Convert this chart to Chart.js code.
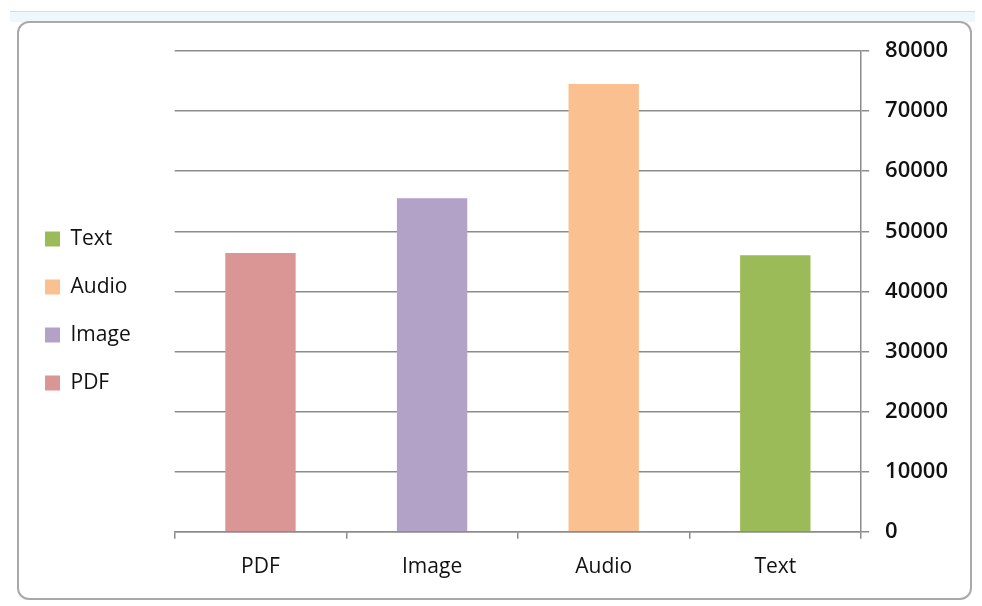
<!DOCTYPE html>
<html>
<head>
<meta charset="utf-8">
<script src="https://cdn.jsdelivr.net/npm/chart.js@4.4.1/dist/chart.umd.min.js"></script>
<style>
    body { margin: 0; background: #fff; }
    #wrap { position: relative; width: 982px; height: 606px; overflow: hidden; }
    #strip { position: absolute; left: 10px; top: 11px; width: 965px; height: 10px; background: #eef8fa; border-top: 1px solid #cfe0e4; }
    #frame { position: absolute; left: 17px; top: 21px; width: 951px; height: 575px; border: 2px solid #a9a9a9; border-radius: 12px; background: #fff; }
    canvas { position: absolute; left: 0; top: 0; }
</style>
</head>
<body>
<div id="wrap">
    <div id="strip"></div>
    <div id="frame"></div>
    <canvas id="chart" width="982" height="606"></canvas>
</div>
<script>
const categories = ['PDF', 'Image', 'Audio', 'Text'];
const values = [46400, 55500, 74500, 46000];
const colors = ['#d99694', '#b2a2c7', '#fac090', '#9bbb59'];
const yTicks = [0, 10000, 20000, 30000, 40000, 50000, 60000, 70000, 80000];

const gridColor = '#8c8c8c';
const textColor = '#111';
const font = { family: 'Open Sans', size: 21 };

const ctx = document.getElementById('chart').getContext('2d');

new Chart(ctx, {
    type: 'bar',
    data: {
        labels: categories,
        datasets: [{
            data: values,
            backgroundColor: colors,
            barPercentage: 0.82,
            categoryPercentage: 0.5,
        }],
    },
    options: {
        responsive: false,
        animation: false,
        layout: {
            padding: { left: 18, right: 18, top: 51, bottom: 10 }
        },
        plugins: {
            tooltip: { enabled: false },
            legend: {
                position: 'left',
                align: 'start',
                reverse: true,
                // empty title only pushes the legend entries down
                title: { display: true, text: '', padding: { top: 68, bottom: 68 } },
                labels: {
                    boxWidth: 15,
                    boxHeight: 15,
                    padding: 27,
                    color: textColor,
                    font: font,
                    generateLabels: () => categories.map((name, i) => ({
                        text: name,
                        fillStyle: colors[i],
                        strokeStyle: colors[i],
                        fontColor: textColor,
                        lineWidth: 0,
                        datasetIndex: 0,
                        index: i,
                    })),
                },
            },
        },
        scales: {
            x: {
                grid: {
                    offset: true,
                    drawOnChartArea: false,
                    drawTicks: true,
                    tickLength: 7,
                    color: gridColor,
                    lineWidth: 1.5,
                },
                border: { color: gridColor, width: 1.5 },
                ticks: { color: textColor, font: font, padding: 16 },
            },
            y: {
                position: 'right',
                min: 0,
                max: 80000,
                afterBuildTicks: (scale) => {
                    scale.ticks = yTicks.map(v => ({ value: v }));
                },
                grid: {
                    color: gridColor,
                    lineWidth: 1.5,
                    tickLength: 8,
                },
                border: { color: gridColor, width: 1.5 },
                ticks: {
                    color: textColor,
                    font: { family: 'Open Sans', size: 22, weight: '600' },
                    padding: 16,
                    callback: (value) => String(value),
                },
            },
            pad: {
                position: 'left',
                display: true,
                grid: { display: false },
                border: { display: false },
                ticks: { display: false },
                afterFit: (scale) => { scale.width = 34; },
            },
        },
    },
});
</script>
</body>
</html>
